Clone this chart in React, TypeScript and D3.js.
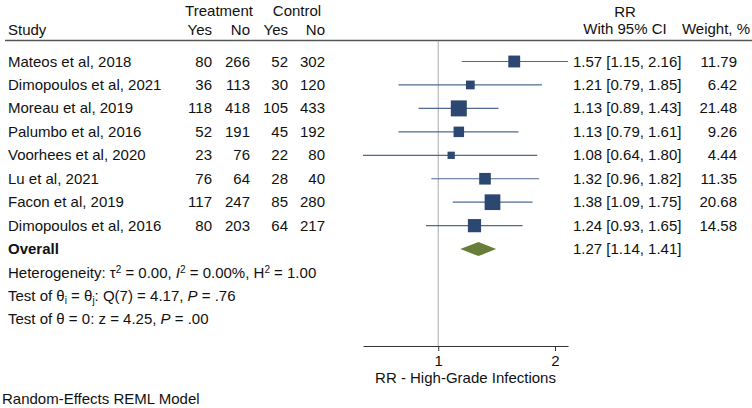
import { useEffect, useRef } from 'react'
import * as d3 from 'd3'

const studies = [
  'Mateos et al, 2018',
  'Dimopoulos et al, 2021',
  'Moreau et al, 2019',
  'Palumbo et al, 2016',
  'Voorhees et al, 2020',
  'Lu et al, 2021',
  'Facon et al, 2019',
  'Dimopoulos et al, 2016',
]
const treatYes = [80, 36, 118, 52, 23, 76, 117, 80]
const treatNo = [266, 113, 418, 191, 76, 64, 247, 203]
const ctrlYes = [52, 30, 105, 45, 22, 28, 85, 64]
const ctrlNo = [302, 120, 433, 192, 80, 40, 280, 217]
const rr = [1.57, 1.21, 1.13, 1.13, 1.08, 1.32, 1.38, 1.24]
const lower = [1.15, 0.79, 0.89, 0.79, 0.64, 0.96, 1.09, 0.93]
const upper = [2.16, 1.85, 1.43, 1.61, 1.8, 1.82, 1.75, 1.65]
const weight = [11.79, 6.42, 21.48, 9.26, 4.44, 11.35, 20.68, 14.58]
const overall = [1.27, 1.14, 1.41] // estimate, lower, upper
const xTicks = [1, 2]

const W = 752
const H = 408
const FONT = '"Liberation Sans", Arial, Helvetica, sans-serif'

function App() {
  const axisRef = useRef<SVGGElement>(null)

  const x = d3.scaleLog().domain([0.64, 2.16]).range([363, 568])
  const size = d3.scaleSqrt().domain([0, d3.max(weight)!]).range([0, 16])
  // rows: 8 studies, overall, then 3 lines of stats, all on one grid
  const rowY = (i: number) => 61.5 + 23.45 * i
  const overallY = rowY(8)
  const axisY = 346

  useEffect(() => {
    const g = d3.select(axisRef.current)
    g.selectAll('*').remove()
    g.call(
      d3.axisBottom(x).tickValues(xTicks).tickFormat(d3.format('d')).tickSize(5).tickSizeOuter(0)
    )
    g.select('.domain').attr('stroke', '#333')
    g.selectAll('.tick line').attr('stroke', '#333')
    g.selectAll('.tick text')
      .attr('font-family', FONT)
      .attr('font-size', 15)
      .attr('fill', '#111')
      .attr('dy', '0.8em')
  }, [])

  const fmt = (v: number) => v.toFixed(2)
  const txt = { fontFamily: FONT, fontSize: 15, fill: '#111' }

  return (
    <svg width={W} height={H} style={{ position: 'absolute', left: 0, top: 0, background: '#fff' }}>
      {/* header */}
      <g style={txt}>
        <text x={219} y={16} textAnchor="middle">Treatment</text>
        <text x={297} y={16} textAnchor="middle">Control</text>
        <text x={8} y={35}>Study</text>
        <text x={212} y={35} textAnchor="end">Yes</text>
        <text x={250} y={35} textAnchor="end">No</text>
        <text x={288} y={35} textAnchor="end">Yes</text>
        <text x={325} y={35} textAnchor="end">No</text>
        <text x={625} y={17} textAnchor="middle">RR</text>
        <text x={625} y={34} textAnchor="middle">With 95% CI</text>
        <text x={750} y={34} textAnchor="end">Weight, %</text>
      </g>
      <line x1={5} x2={W} y1={40.5} y2={40.5} stroke="#555" strokeWidth={1.5} />

      {/* reference line at RR = 1 */}
      <line x1={x(1)} x2={x(1)} y1={41} y2={axisY} stroke="#aaa" strokeWidth={1} />

      {/* study rows */}
      {studies.map((s, i) => {
        const y = rowY(i)
        const sz = size(weight[i])
        return (
          <g key={s}>
            <g style={txt}>
              <text x={8} y={y + 5}>{s}</text>
              <text x={212} y={y + 5} textAnchor="end">{treatYes[i]}</text>
              <text x={250} y={y + 5} textAnchor="end">{treatNo[i]}</text>
              <text x={288} y={y + 5} textAnchor="end">{ctrlYes[i]}</text>
              <text x={325} y={y + 5} textAnchor="end">{ctrlNo[i]}</text>
              <text x={573} y={y + 5}>
                {`${fmt(rr[i])} [${fmt(lower[i])}, ${fmt(upper[i])}]`}
              </text>
              <text x={737} y={y + 5} textAnchor="end">{fmt(weight[i])}</text>
            </g>
            <line x1={x(lower[i])} x2={x(upper[i])} y1={y} y2={y} stroke="#4f6891" strokeWidth={1.2} />
            <rect x={x(rr[i]) - sz / 2} y={y - sz / 2} width={sz} height={sz} fill="#2c4772" />
          </g>
        )
      })}

      {/* overall */}
      <text x={8} y={overallY + 5} style={{ ...txt, fontWeight: 'bold' }}>Overall</text>
      <path
        d={`M${x(overall[1])},${overallY} L${x(overall[0])},${overallY - 7} L${x(overall[2])},${overallY} L${x(overall[0])},${overallY + 7} Z`}
        fill="#687d37"
      />
      <text x={573} y={overallY + 5} style={txt}>
        {`${fmt(overall[0])} [${fmt(overall[1])}, ${fmt(overall[2])}]`}
      </text>

      {/* heterogeneity & tests */}
      <g style={txt}>
        <text x={8} y={rowY(9) + 5}>
          Heterogeneity: τ<tspan fontSize={10} dy={-5}>2</tspan>
          <tspan dy={5}> = 0.00, </tspan>
          <tspan fontStyle="italic">I</tspan>
          <tspan fontSize={10} dy={-5}>2</tspan>
          <tspan dy={5}> = 0.00%, H</tspan>
          <tspan fontSize={10} dy={-5}>2</tspan>
          <tspan dy={5}> = 1.00</tspan>
        </text>
        <text x={8} y={rowY(10) + 5} style={{ whiteSpace: 'pre' }}>
          Test of θ<tspan fontSize={10} dy={3}>i</tspan>
          <tspan dy={-3}> = θ</tspan>
          <tspan fontSize={10} dy={3}>j</tspan>
          <tspan dy={-3}>: Q(7) = 4.17, </tspan>
          <tspan fontStyle="italic">P</tspan>
          <tspan> = .76</tspan>
        </text>
        <text x={8} y={rowY(11) + 5} style={{ whiteSpace: 'pre' }}>
          Test of θ = 0: z = 4.25, <tspan fontStyle="italic">P</tspan> = .00
        </text>
      </g>

      {/* axis */}
      <g ref={axisRef} transform={`translate(0,${axisY})`} />
      <text x={(x.range()[0] + x.range()[1]) / 2} y={383} textAnchor="middle" style={txt}>
        RR - High-Grade Infections
      </text>

      <text x={2} y={404} style={txt}>Random-Effects REML Model</text>
    </svg>
  )
}

export default App
